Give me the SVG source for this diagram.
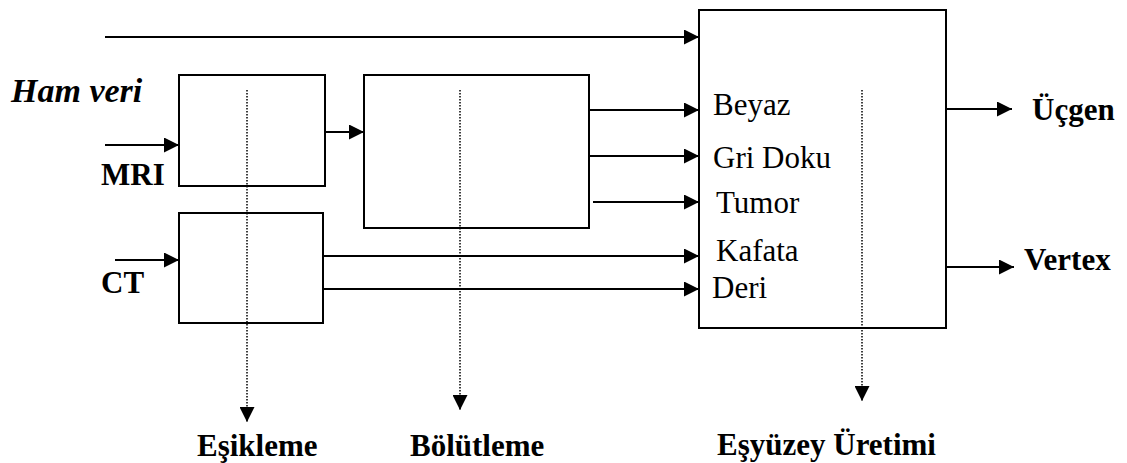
<svg xmlns="http://www.w3.org/2000/svg" width="1127" height="463" viewBox="0 0 1127 463">
<style>
.box{fill:#fff;stroke:#000;stroke-width:2}
.ln{stroke:#000;stroke-width:2;fill:none}
.dot{stroke:#000;stroke-width:1.5;stroke-dasharray:1.5 1.5;fill:none}
text{font-family:"Liberation Serif","Times New Roman",serif;font-size:31px;fill:#000}
.b{font-weight:bold}
.bi{font-weight:bold;font-style:italic;font-size:34px}
</style>
<defs>
<marker id="ah" markerUnits="userSpaceOnUse" markerWidth="15" markerHeight="15" refX="15" refY="7.5" orient="auto">
<path d="M0,0 L15,7.5 L0,15 z" fill="#000"/>
</marker>
</defs>
<rect width="1127" height="463" fill="#fff"/>
<g id="esikleme">
<rect class="box" x="179" y="75" width="146" height="111"/>
</g>
<g id="ct-box">
<rect class="box" x="179" y="213" width="144" height="110"/>
</g>
<g id="bolutleme">
<rect class="box" x="364" y="75" width="225" height="153"/>
</g>
<g id="esyuzey">
<rect class="box" x="699" y="10" width="247" height="318"/>
<text x="713" y="115">Beyaz</text>
<text x="713" y="168">Gri Doku</text>
<text x="716" y="213">Tumor</text>
<text x="716" y="261">Kafata</text>
<text x="712" y="298">Deri</text>
</g>
<g id="connectors">
<line class="ln" x1="105" y1="37" x2="699" y2="37" marker-end="url(#ah)"/>
<line class="ln" x1="325" y1="132" x2="364" y2="132" marker-end="url(#ah)"/>
<line class="ln" x1="105" y1="145" x2="179" y2="145" marker-end="url(#ah)"/>
<line class="ln" x1="115" y1="260" x2="179" y2="260" marker-end="url(#ah)"/>
<line class="ln" x1="589" y1="110" x2="699" y2="110" marker-end="url(#ah)"/>
<line class="ln" x1="589" y1="156" x2="699" y2="156" marker-end="url(#ah)"/>
<line class="ln" x1="593" y1="202" x2="699" y2="202" marker-end="url(#ah)"/>
<line class="ln" x1="323" y1="256" x2="699" y2="256" marker-end="url(#ah)"/>
<line class="ln" x1="323" y1="289" x2="699" y2="289" marker-end="url(#ah)"/>
<line class="ln" x1="946" y1="109" x2="1012" y2="109" marker-end="url(#ah)"/>
<line class="ln" x1="946" y1="267" x2="1014" y2="267" marker-end="url(#ah)"/>
<line class="dot" x1="247" y1="90" x2="247" y2="422" marker-end="url(#ah)"/>
<line class="dot" x1="460" y1="90" x2="460" y2="410" marker-end="url(#ah)"/>
<line class="dot" x1="862" y1="90" x2="862" y2="401" marker-end="url(#ah)"/>
</g>
<g id="labels">
<text class="bi" x="11" y="102">Ham veri</text>
<text class="b" x="101" y="185">MRI</text>
<text class="b" x="101" y="293">CT</text>
<text class="b" x="1032" y="120">Üçgen</text>
<text class="b" x="1024" y="270">Vertex</text>
<text class="b" x="197" y="456">Eşikleme</text>
<text class="b" x="410" y="456">Bölütleme</text>
<text class="b" x="717" y="455">Eşyüzey Üretimi</text>
</g>
</svg>
